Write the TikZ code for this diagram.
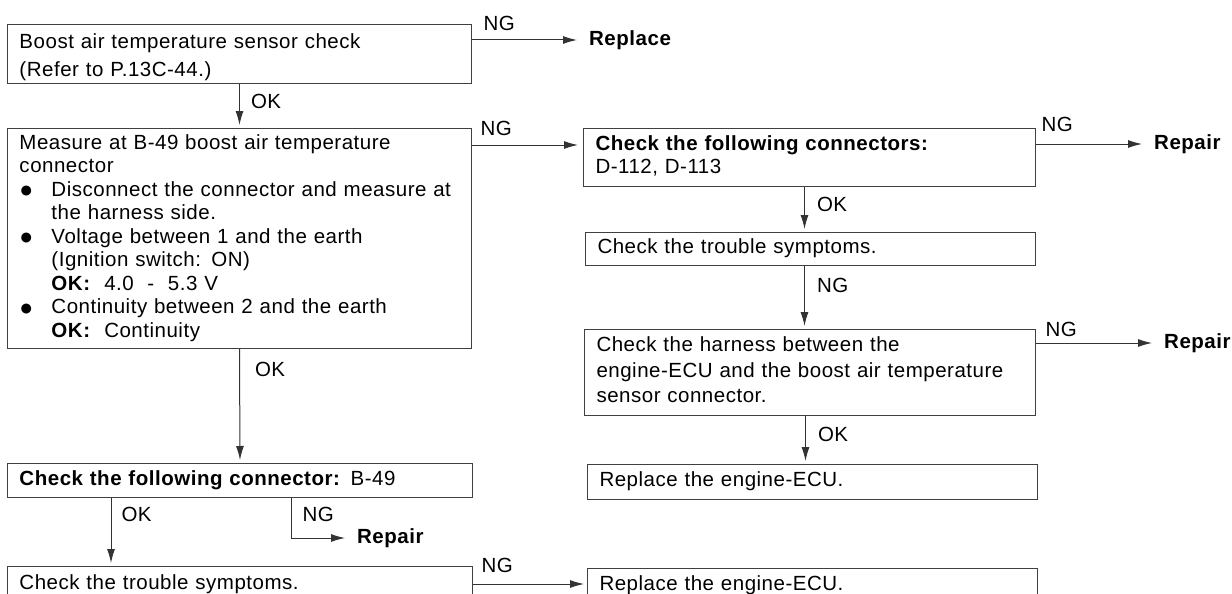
\documentclass[tikz,border=0pt]{standalone}
\usepackage{fontspec}
\setmainfont{Liberation Sans}[WordSpace=1.8, LetterSpace=2.5]
\usetikzlibrary{arrows.meta}
\newcommand{\rows}[1]{\begin{tabular}{@{}l@{}}#1\end{tabular}}
\newcommand{\blt}{\makebox[32pt][l]{\raisebox{-1.5pt}{\fontsize{23pt}{23pt}\selectfont ●}}}
\newcommand{\ind}{\hspace*{32pt}}

\begin{document}
\begin{tikzpicture}[x=1pt, y=-1pt,
	every node/.style={font=\fontsize{20.5pt}{23.5pt}\selectfont},
	box/.style={draw=black!75, line width=1pt, anchor=north west, inner xsep=12pt, inner ysep=0pt, align=left},
	lbl/.style={inner sep=0pt, anchor=west},
	go/.style={inner sep=0pt, anchor=west, font=\fontsize{20.5pt}{23.5pt}\selectfont\bfseries},
	arr/.style={draw=black!80, line width=1pt, shorten >=3pt, -{Latex[length=14pt,width=8pt]}}]
	\clip (0,0) rectangle (1232,594);
	% boxes
	\node[box, text width=440pt, minimum height=59pt] (sensor) at (7,24) {\rows{\rule{0pt}{23.7pt}Boost air temperature sensor check\\[4.8pt] (Refer to P.13C-44.)}};
	\node[box, text width=440pt, minimum height=220pt] (measure) at (7,128) {\rows{Measure at B-49 boost air temperature\\ connector\\ \blt Disconnect the connector and measure at\\ \ind the harness side.\\ \blt Voltage between 1 and the earth\\ \ind (Ignition switch: ON)\\ \ind\textbf{OK:} \ 4.0 \ - \ 5.3 V\\ \blt Continuity between 2 and the earth\\ \ind\textbf{OK:} \ Continuity}};
	\node[box, text width=428pt, minimum height=58pt] (conns) at (583,128) {\rows{\textbf{Check the following connectors:}\\ D-112, D-113}};
	\node[box, text width=426pt, minimum height=33pt] (symp) at (585,232) {\rows{Check the trouble symptoms.}};
	\node[box, text width=427pt, minimum height=86pt] (harness) at (584,329) {\rows{Check the harness between the\\[2pt] engine-ECU and the boost air temperature\\[2pt] sensor connector.}};
	\node[box, text width=426pt, minimum height=35pt] (ecu) at (587,464) {\rows{Replace the engine-ECU.}};
	\node[box, text width=441pt, minimum height=34pt] (conn) at (7,463) {\rows{\textbf{Check the following connector:} B-49}};
	\node[box, text width=441pt, minimum height=36pt] (symp2) at (7,566) {\rows{Check the trouble symptoms.}};
	\node[box, text width=426pt, minimum height=34pt] (ecu2) at (587,568) {\rows{Replace the engine-ECU.}};
	% results
	\node[go] (replace) at (589,40) {Replace};
	\node[go] (repair) at (1154,144) {Repair};
	\node[go] (repair2) at (1164,343) {Repair};
	\node[go] (repair3) at (357,538) {Repair};
	% connectors
	\draw[arr, shorten >=12pt] ([yshift=-16pt]sensor.north east) -- node[lbl, at start, xshift=11pt, yshift=17pt] (ng1) {NG} (replace.west);
	\draw[arr] (sensor.south) -- node[lbl, at start, xshift=11pt, yshift=-17pt] (ok1) {OK} (measure.north);
	\draw[arr, shorten >=5pt] ([yshift=-17pt]measure.north east) -- node[lbl, at start, xshift=8pt, yshift=17pt] (ng2) {NG} ([yshift=-17pt]measure.north east -| conns.west);
	\draw[arr, shorten >=12pt] ([yshift=-16pt]conns.north east) -- node[lbl, at start, xshift=5pt, yshift=20pt] (ng3) {NG} (repair.west);
	\draw[arr] ([xshift=-5pt]conns.south) -- node[lbl, at start, xshift=12pt, yshift=-17pt] (ok2) {OK} ([xshift=-5pt]conns.south |- symp.north);
	\draw[arr] ([xshift=-6pt]symp.south) -- node[lbl, at start, xshift=12pt, yshift=-19pt] (ng4) {NG} ([xshift=-6pt]symp.south |- harness.north);
	\draw[arr, shorten >=12pt] ([yshift=-14pt]harness.north east) -- node[lbl, at start, xshift=9pt, yshift=14pt] (ng5) {NG} (repair2.west);
	\draw[arr] ([xshift=-4.5pt]harness.south) -- node[lbl, at start, xshift=12pt, yshift=-18pt] (ok3) {OK} ([xshift=-4.5pt]harness.south |- ecu.north);
	\draw[arr] (measure.south) -- node[lbl, at start, xshift=15pt, yshift=-20pt] (ok4) {OK} (conn.north);
	\draw[arr] ([xshift=104pt]conn.south west) -- node[lbl, at start, xshift=10pt, yshift=-16pt] (ok5) {OK} ([xshift=104pt]conn.south west |- symp2.north);
	\draw[arr, shorten >=12pt] ([xshift=284pt]conn.south west) |- node[lbl, at start, xshift=11pt, yshift=-16pt] (ng6) {NG} (repair3.west);
	\draw[arr] ([yshift=-18pt]symp2.north east) -- node[lbl, at start, xshift=8pt, yshift=19pt] (ng7) {NG} ([yshift=-18pt]symp2.north east -| ecu2.west);
\end{tikzpicture}
\end{document}
